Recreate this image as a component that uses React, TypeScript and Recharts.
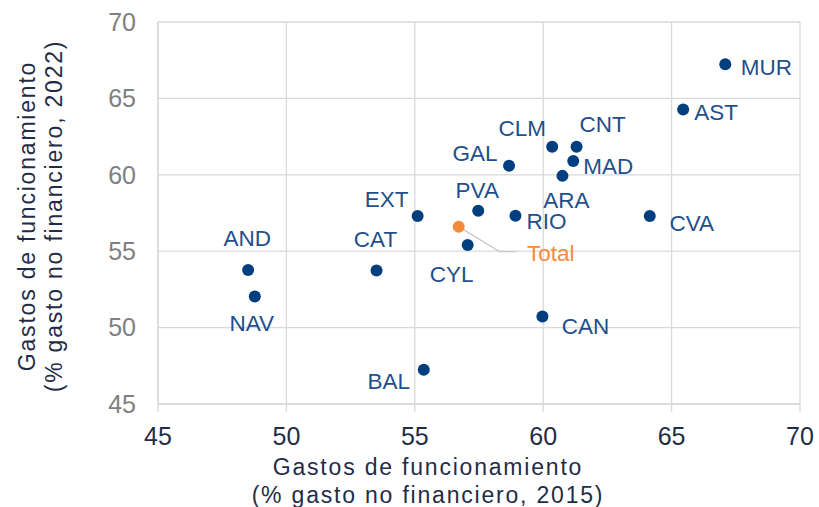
import React from 'react';
import { ScatterChart, Scatter, XAxis, YAxis, CartesianGrid, Label } from 'recharts';

// regiones: gasto de funcionamiento (% gasto no financiero)
const regions = ['MUR', 'AST', 'CNT', 'CLM', 'MAD', 'ARA', 'GAL', 'PVA', 'RIO', 'CVA', 'EXT', 'CYL', 'CAT', 'AND', 'NAV', 'CAN', 'BAL'];
const gasto2015 = [67.09, 65.45, 61.3, 60.35, 61.17, 60.75, 58.67, 57.47, 58.92, 64.15, 55.11, 57.06, 53.51, 48.51, 48.77, 59.97, 55.35];
const gasto2022 = [67.24, 64.27, 61.83, 61.83, 60.9, 59.93, 60.59, 57.65, 57.32, 57.3, 57.3, 55.41, 53.73, 53.77, 52.03, 50.72, 47.24];

const totalName = ['Total'];
const total2015 = [56.71];
const total2022 = [56.6];

const axisTicks = [45, 50, 55, 60, 65, 70];

// label placement (offset of the text centre from the dot)
const labelOffset: Record<string, [number, number]> = {
    MUR: [41, 3],
    AST: [33, 3],
    CNT: [26, -22],
    CLM: [-30, -18],
    MAD: [35, 5],
    ARA: [4, 25],
    GAL: [-34, -12],
    PVA: [-1, -20],
    RIO: [31, 6],
    CVA: [42, 7],
    EXT: [-31, -17],
    CYL: [-16, 30],
    CAT: [-1, -31],
    AND: [-1, -31],
    NAV: [-3, 27],
    CAN: [43, 10],
    BAL: [-35, 12],
    Total: [92, 27]
};

const regionData = regions.map((name, i) => ({ name, x: gasto2015[i], y: gasto2022[i] }));
const totalData = totalName.map((name, i) => ({ name, x: total2015[i], y: total2022[i] }));

const FONT = '"Liberation Sans", Arial, sans-serif';
const NAVY = '#003f7f';
const LABEL_NAVY = '#1f4f8c';
const ORANGE = '#f58a3c';
const TITLE = '#1f2d48';
const GRID = '#d9d9d9';

const RegionDot = (props: any) => {
    const { cx, cy, payload } = props;
    const [dx, dy] = labelOffset[payload.name] || [0, -20];
    return (
        <g>
            <circle cx={cx} cy={cy} r={6} fill={NAVY} />
            <text x={cx + dx} y={cy + dy} textAnchor="middle" dominantBaseline="central"
                fontFamily={FONT} fontSize={22.5} fill={LABEL_NAVY}>
                {payload.name}
            </text>
        </g>
    );
};

const TotalDot = (props: any) => {
    const { cx, cy, payload } = props;
    const [dx, dy] = labelOffset[payload.name];
    return (
        <g>
            <polyline points={`${cx},${cy} ${cx + 41},${cy + 25} ${cx + 57},${cy + 25}`}
                fill="none" stroke="#bfbfbf" strokeWidth={1.2} />
            <circle cx={cx} cy={cy} r={6} fill={ORANGE} />
            <text x={cx + dx} y={cy + dy} textAnchor="middle" dominantBaseline="central"
                fontFamily={FONT} fontSize={22.5} fill={ORANGE}>
                {payload.name}
            </text>
        </g>
    );
};

const XTitle = (props: any) => {
    const { viewBox } = props;
    const cx = viewBox.x + viewBox.width / 2 - 51;
    return (
        <text textAnchor="middle" fontFamily={FONT} fontSize={23} letterSpacing={1.8} fill={TITLE}>
            <tspan x={cx} y={viewBox.y + 71}>Gastos de funcionamiento</tspan>
            <tspan x={cx} y={viewBox.y + 99}>(% gasto no financiero, 2015)</tspan>
        </text>
    );
};

const YTitle = (props: any) => {
    const { viewBox } = props;
    const cy = viewBox.y + viewBox.height / 2 + 3;
    return (
        <g>
            <text transform={`translate(35, ${cy}) rotate(-90)`} textAnchor="middle"
                fontFamily={FONT} fontSize={23} letterSpacing={1.8} fill={TITLE}>
                Gastos de funcionamiento
            </text>
            <text transform={`translate(62, ${cy}) rotate(-90)`} textAnchor="middle"
                fontFamily={FONT} fontSize={23} letterSpacing={1.8} fill={TITLE}>
                (% gasto no financiero, 2022)
            </text>
        </g>
    );
};

export default function App() {
    return (
        <div style={{ position: 'absolute', left: 0, top: 0, background: '#fff' }}>
            <ScatterChart width={819} height={507} margin={{ top: 22, right: 19, bottom: 0, left: 0 }}>
                <CartesianGrid stroke={GRID} strokeWidth={1.3} />
                <XAxis
                    type="number"
                    dataKey="x"
                    domain={[45, 70]}
                    ticks={axisTicks}
                    height={103}
                    axisLine={{ stroke: GRID, strokeWidth: 1.3 }}
                    tickLine={{ stroke: GRID, strokeWidth: 1.3 }}
                    tickSize={8}
                    tickMargin={15}
                    tick={{ fontFamily: FONT, fontSize: 25, fill: TITLE }}
                    label={{ content: XTitle }}
                />
                <YAxis
                    type="number"
                    dataKey="y"
                    domain={[45, 70]}
                    ticks={axisTicks}
                    width={158}
                    axisLine={{ stroke: GRID, strokeWidth: 1.3 }}
                    tickLine={false}
                    tickSize={0}
                    tickMargin={22}
                    tick={{ fontFamily: FONT, fontSize: 25, fill: '#808080' }}
                    label={{ content: YTitle }}
                />
                <Scatter data={regionData} shape={RegionDot} isAnimationActive={false} />
                <Scatter data={totalData} shape={TotalDot} isAnimationActive={false} />
            </ScatterChart>
        </div>
    );
}
